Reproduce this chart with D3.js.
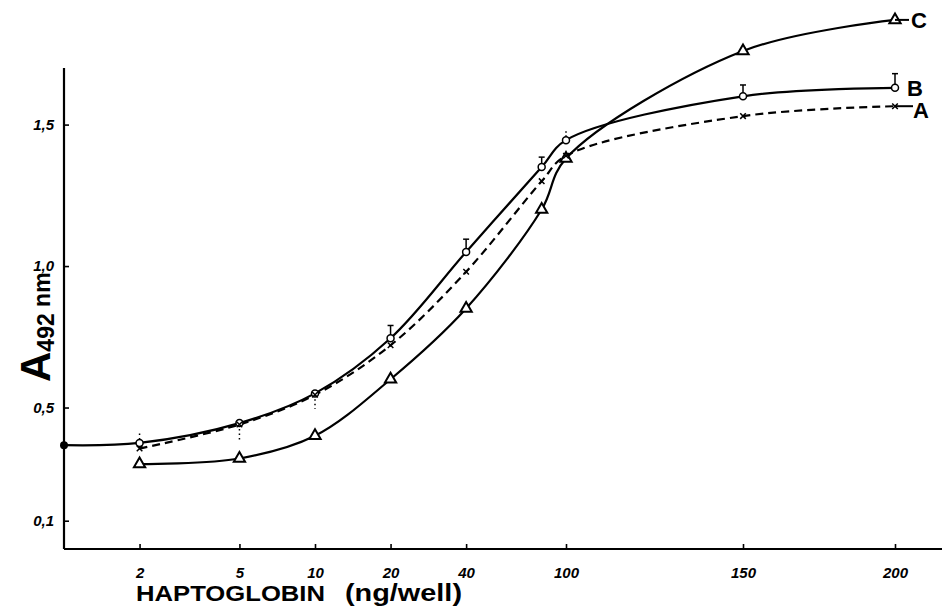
<!DOCTYPE html>
<html>
<head>
<meta charset="utf-8">
<script src="https://cdn.jsdelivr.net/npm/d3@7"></script>
<style>
body { margin: 0; background: #fff; }
text { font-family: "Liberation Sans", Arial, sans-serif; fill: #000; }
</style>
</head>
<body>
<svg id="chart"></svg>
<script>
// haptoglobin doses (ng/well) and absorbance readings
let doses = [2, 5, 10, 20, 40, 80, 100, 150, 200]
let seriesA = [0.355, 0.44, 0.545, 0.72, 0.98, 1.30, 1.39, 1.53, 1.565]
let seriesB = [0.375, 0.445, 0.55, 0.745, 1.05, 1.35, 1.445, 1.60, 1.63]
let seriesC = [0.30, 0.32, 0.40, 0.60, 0.85, 1.20, 1.38, 1.76, 1.87]
let blankB = 0.367
let errB = [0, 0, 0, 0.045, 0.045, 0.035, 0.04, 0.04, 0.05]
let errA = [0.06, -0.06, -0.05, 0, 0, 0, 0, 0, 0]

let xTicks = [2, 5, 10, 20, 40, 100, 150, 200]
let yTicks = [0.1, 0.5, 1.0, 1.5]

let w = 942, h = 609

let svg = d3.select("#chart")
    .attr("width", w)
    .attr("height", h)

// hand drawn axis: log spacing up to 100, then stretched
let x = d3.scaleLog()
    .domain([1, 100, 150, 200])
    .range([64, 566, 743, 895])

let y = d3.scaleLinear()
    .domain([0, 1.7])
    .range([549, 68])

let fmt = d => String(d).replace(".", ",")

// x axis
let xAxis = svg.append("g")
    .attr("transform", "translate(0," + y(0) + ")")
    .call(d3.axisBottom(x).tickValues(xTicks).tickSize(-5).tickPadding(18).tickFormat(d => d))
xAxis.select(".domain").remove()
xAxis.selectAll(".tick line").attr("stroke-width", 1.6)
xAxis.selectAll("text")
    .style("font-size", "15px").style("font-style", "italic").style("font-weight", "bold")
svg.append("line")
    .attr("x1", x(1)).attr("x2", w)
    .attr("y1", y(0)).attr("y2", y(0))
    .attr("stroke", "#000").attr("stroke-width", 2.2)

// y axis
let yAxis = svg.append("g")
    .attr("transform", "translate(" + x(1) + ",0)")
    .call(d3.axisLeft(y).tickValues(yTicks).tickSize(-5).tickPadding(10).tickFormat(d => fmt(d3.format(".1f")(d))))
yAxis.select(".domain").remove()
yAxis.selectAll(".tick line").attr("stroke-width", 1.6)
yAxis.selectAll("text")
    .style("font-size", "15px").style("font-style", "italic").style("font-weight", "bold")
svg.append("line")
    .attr("x1", x(1)).attr("x2", x(1))
    .attr("y1", y(0)).attr("y2", y(1.7))
    .attr("stroke", "#000").attr("stroke-width", 2.2)

// titles
svg.append("text")
    .attr("x", 136).attr("y", 601)
    .attr("textLength", 189).attr("lengthAdjust", "spacingAndGlyphs")
    .style("font-size", "22px").style("font-weight", "bold")
    .text("HAPTOGLOBIN")
svg.append("text")
    .attr("x", 345).attr("y", 601)
    .attr("textLength", 117).attr("lengthAdjust", "spacingAndGlyphs")
    .style("font-size", "24px").style("font-weight", "bold")
    .text("(ng/well)")

let yt = svg.append("text")
    .attr("transform", "translate(50,382) rotate(-90)")
    .style("font-weight", "bold")
yt.append("tspan").style("font-size", "42px").text("A")
yt.append("tspan").style("font-size", "23px").attr("dy", 4).text("492")
yt.append("tspan").style("font-size", "23px").attr("dy", -4).text(" nm")

// curves
let line = d3.line()
    .x(d => x(d[0]))
    .y(d => y(d[1]))
    .curve(d3.curveCatmullRom.alpha(0.5))

let ptsA = doses.map((d, i) => [d, seriesA[i]])
let ptsB = [[1, blankB]].concat(doses.map((d, i) => [d, seriesB[i]]))
let ptsC = doses.map((d, i) => [d, seriesC[i]])

svg.append("path").datum(ptsC).attr("d", line)
    .attr("fill", "none").attr("stroke", "#000").attr("stroke-width", 2.2)
svg.append("path").datum(ptsB).attr("d", line)
    .attr("fill", "none").attr("stroke", "#000").attr("stroke-width", 2.2)
svg.append("path").datum(ptsA).attr("d", line)
    .attr("fill", "none").attr("stroke", "#000").attr("stroke-width", 2.2)
    .attr("stroke-dasharray", "8,5")

// error bars
doses.forEach((d, i) => {
    if (errB[i] > 0) {
        let cx = x(d), y0 = y(seriesB[i]) - 3.5, y1 = y(seriesB[i] + errB[i])
        let dotted = d == 100
        svg.append("line").attr("x1", cx).attr("x2", cx).attr("y1", y0).attr("y2", y1)
            .attr("stroke", "#000").attr("stroke-width", 1.5)
            .attr("stroke-dasharray", dotted ? "1.5,2.5" : null)
        if (!dotted)
            svg.append("line").attr("x1", cx - 3).attr("x2", cx + 3).attr("y1", y1).attr("y2", y1)
                .attr("stroke", "#000").attr("stroke-width", 1.5)
    }
    if (errA[i] != 0) {
        let cx = x(d)
        svg.append("line").attr("x1", cx).attr("x2", cx)
            .attr("y1", y(seriesA[i])).attr("y2", y(seriesA[i] + errA[i]))
            .attr("stroke", "#000").attr("stroke-width", 1.5)
            .attr("stroke-dasharray", "1.5,3")
    }
})

// markers
svg.append("circle").attr("cx", x(1)).attr("cy", y(blankB)).attr("r", 4).attr("fill", "#000")

svg.selectAll(".tri").data(ptsC).enter().append("path")
    .attr("class", "tri")
    .attr("d", d3.symbol().type(d3.symbolTriangle).size(55))
    .attr("transform", d => "translate(" + x(d[0]) + "," + y(d[1]) + ")")
    .attr("fill", "#fff").attr("stroke", "#000").attr("stroke-width", 2)

svg.selectAll(".circ").data(ptsB.slice(1)).enter().append("circle")
    .attr("class", "circ")
    .attr("cx", d => x(d[0])).attr("cy", d => y(d[1])).attr("r", 3.5)
    .attr("fill", "#fff").attr("stroke", "#000").attr("stroke-width", 1.5)

svg.selectAll(".cross").data(ptsA).enter().append("path")
    .attr("class", "cross")
    .attr("d", d3.symbol().type(d3.symbolX).size(22))
    .attr("transform", d => "translate(" + x(d[0]) + "," + y(d[1]) + ")")
    .attr("fill", "none").attr("stroke", "#000").attr("stroke-width", 1.5)

// series labels
let last = doses.length - 1
svg.append("line")
    .attr("x1", x(200)).attr("x2", x(200) + 18)
    .attr("y1", y(seriesA[last])).attr("y2", y(seriesA[last]))
    .attr("stroke", "#000").attr("stroke-width", 2)
svg.append("line")
    .attr("x1", x(200)).attr("x2", x(200) + 14)
    .attr("y1", y(seriesC[last])).attr("y2", y(seriesC[last]))
    .attr("stroke", "#000").attr("stroke-width", 2)
let labels = [["C", seriesC[last], 16, 8], ["B", seriesB[last], 12, 8], ["A", seriesA[last], 18, 12]]
labels.forEach(l => {
    svg.append("text")
        .attr("x", x(200) + l[2]).attr("y", y(l[1]) + l[3])
        .style("font-size", "22px").style("font-weight", "bold")
        .text(l[0])
})
</script>
</body>
</html>
